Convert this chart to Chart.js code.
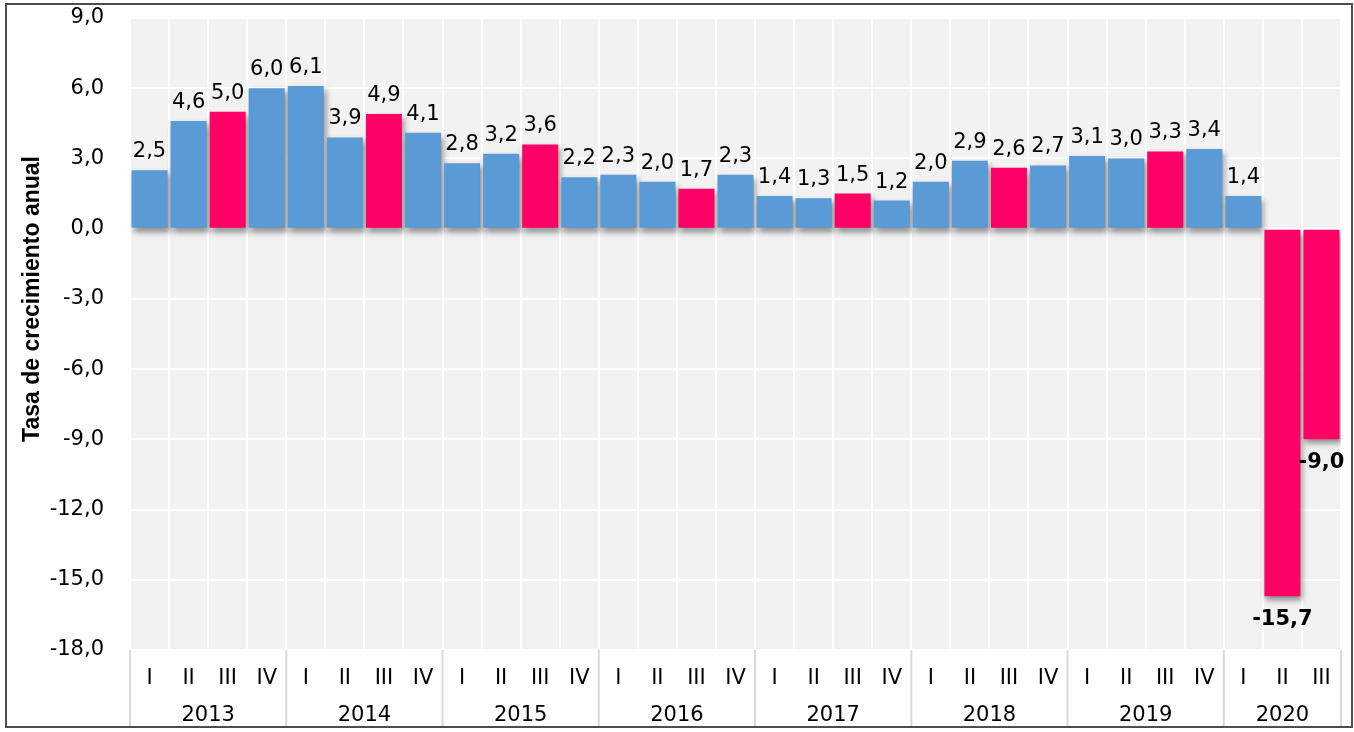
<!DOCTYPE html>
<html>
<head>
<meta charset="utf-8">
<script src="https://cdn.jsdelivr.net/npm/chart.js@4"></script>
<style>
    body { margin: 0; background: #ffffff; }
    #contenedor { position: relative; width: 1354px; height: 732px; }
</style>
</head>
<body>
<div id="contenedor">
    <canvas id="myChart" width="1354" height="732"></canvas>
</div>
<script>
// Datos
const trimestres = ['I', 'II', 'III', 'IV', 'I', 'II', 'III', 'IV', 'I', 'II', 'III', 'IV',
    'I', 'II', 'III', 'IV', 'I', 'II', 'III', 'IV', 'I', 'II', 'III', 'IV',
    'I', 'II', 'III', 'IV', 'I', 'II', 'III'];
const anios = ['2013', '2014', '2015', '2016', '2017', '2018', '2019', '2020'];
const trimestresPorAnio = [4, 4, 4, 4, 4, 4, 4, 3];
const tasas = [2.5, 4.6, 5.0, 6.0, 6.1, 3.9, 4.9, 4.1, 2.8, 3.2, 3.6, 2.2,
    2.3, 2.0, 1.7, 2.3, 1.4, 1.3, 1.5, 1.2, 2.0, 2.9, 2.6, 2.7,
    3.1, 3.0, 3.3, 3.4, 1.4, -15.7, -9.0];
const ticksY = [-18, -15, -12, -9, -6, -3, 0, 3, 6, 9];

const azul = '#5b9bd5';
const rosa = '#ff0066';

// tercer trimestre y caidas en rosa
const colores = tasas.map(function (v, i) {
    return (trimestres[i] == 'III' || v < 0) ? rosa : azul;
});

function formato(v) {
    return v.toFixed(1).replace('.', ',');
}

// Fondo gris del area del grafico
const fondo = {
    id: 'fondo',
    beforeDraw(chart) {
        const ctx = chart.ctx;
        const a = chart.chartArea;
        ctx.save();
        ctx.fillStyle = '#ffffff';
        ctx.fillRect(0, 0, chart.width, chart.height);
        ctx.fillStyle = '#f2f2f2';
        ctx.fillRect(a.left, a.top, a.right - a.left, a.bottom - a.top);
        ctx.restore();
    }
};

// Sombra de las barras
const sombra = {
    id: 'sombra',
    beforeDatasetsDraw(chart) {
        const ctx = chart.ctx;
        ctx.save();
        ctx.shadowColor = 'rgba(0, 0, 0, 0.45)';
        ctx.shadowBlur = 6;
        ctx.shadowOffsetX = 2;
        ctx.shadowOffsetY = 4;
    },
    afterDatasetsDraw(chart) {
        chart.ctx.restore();
    }
};

// Etiquetas, años, separadores, titulo y marco
const extras = {
    id: 'extras',
    afterDraw(chart) {
        const ctx = chart.ctx;
        const a = chart.chartArea;
        const x = chart.scales.x;
        const meta = chart.getDatasetMeta(0);
        ctx.save();

        // valores sobre las barras
        ctx.fillStyle = '#000000';
        ctx.textAlign = 'center';
        ctx.textBaseline = 'alphabetic';
        meta.data.forEach(function (bar, i) {
            const v = tasas[i];
            if (v >= 0) {
                ctx.font = '21px "DejaVu Sans"';
                ctx.fillText(formato(v), bar.x, bar.y - 13);
            } else {
                ctx.font = 'bold 21px "DejaVu Sans"';
                ctx.fillText(formato(v), bar.x, bar.y + 29);
            }
        });

        // separadores y años
        const ancho = (x.right - x.left) / trimestres.length;
        let inicio = 0;
        ctx.strokeStyle = '#d9d9d9';
        ctx.lineWidth = 2;
        ctx.font = '21px "DejaVu Sans"';
        ctx.textBaseline = 'middle';
        for (let k = 0; k < anios.length; k++) {
            const fin = inicio + trimestresPorAnio[k] - 1;
            const x0 = x.getPixelForValue(inicio) - ancho / 2;
            const x1 = x.getPixelForValue(fin) + ancho / 2;
            ctx.beginPath();
            ctx.moveTo(x0, a.bottom);
            ctx.lineTo(x0, 727);
            ctx.stroke();
            if (k == anios.length - 1) {
                ctx.beginPath();
                ctx.moveTo(x1, a.bottom);
                ctx.lineTo(x1, 727);
                ctx.stroke();
            }
            ctx.fillText(anios[k], (x0 + x1) / 2, 716);
            inicio = fin + 1;
        }

        // titulo del eje
        ctx.translate(33, 299);
        ctx.rotate(-Math.PI / 2);
        ctx.font = 'bold 23px "Liberation Sans"';
        ctx.fillText('Tasa de crecimiento anual', 0, 0);
        ctx.setTransform(1, 0, 0, 1, 0, 0);

        // marco
        ctx.strokeStyle = '#4d4d4d';
        ctx.lineWidth = 2;
        ctx.strokeRect(6, 4, 1346, 723);
        ctx.restore();
    }
};

const ctx = document.getElementById('myChart');

new Chart(ctx, {
    type: 'bar',
    data: {
        labels: trimestres,
        datasets: [{
            label: 'Tasa de crecimiento anual',
            data: tasas,
            backgroundColor: colores,
            borderWidth: 0,
            barPercentage: 0.92,
            categoryPercentage: 1
        }]
    },
    options: {
        responsive: false,
        animation: false,
        layout: {
            padding: { left: 0, top: 18, right: 13, bottom: 0 }
        },
        plugins: {
            legend: { display: false },
            tooltip: { enabled: false }
        },
        scales: {
            x: {
                grid: {
                    offset: true,
                    color: '#ffffff',
                    lineWidth: 2,
                    drawTicks: false
                },
                border: { display: false },
                ticks: {
                    color: '#000000',
                    font: { family: 'DejaVu Sans', size: 21 },
                    padding: 16,
                    maxRotation: 0,
                    autoSkip: false
                },
                afterFit: function (scale) {
                    scale.height = 82;
                    scale.paddingLeft = 0;
                    scale.paddingRight = 0;
                }
            },
            y: {
                min: -18,
                max: 9,
                afterBuildTicks: function (scale) {
                    scale.ticks = ticksY.map(function (v) { return { value: v }; });
                },
                grid: {
                    color: '#ffffff',
                    lineWidth: 2,
                    drawTicks: false
                },
                border: { display: false },
                ticks: {
                    color: '#000000',
                    font: { family: 'DejaVu Sans', size: 21 },
                    padding: 26,
                    callback: function (v) { return formato(v); }
                },
                afterFit: function (scale) {
                    scale.width = 130;
                    scale.paddingTop = 0;
                    scale.paddingBottom = 0;
                }
            }
        }
    },
    plugins: [fondo, sombra, extras]
});
</script>
</body>
</html>
